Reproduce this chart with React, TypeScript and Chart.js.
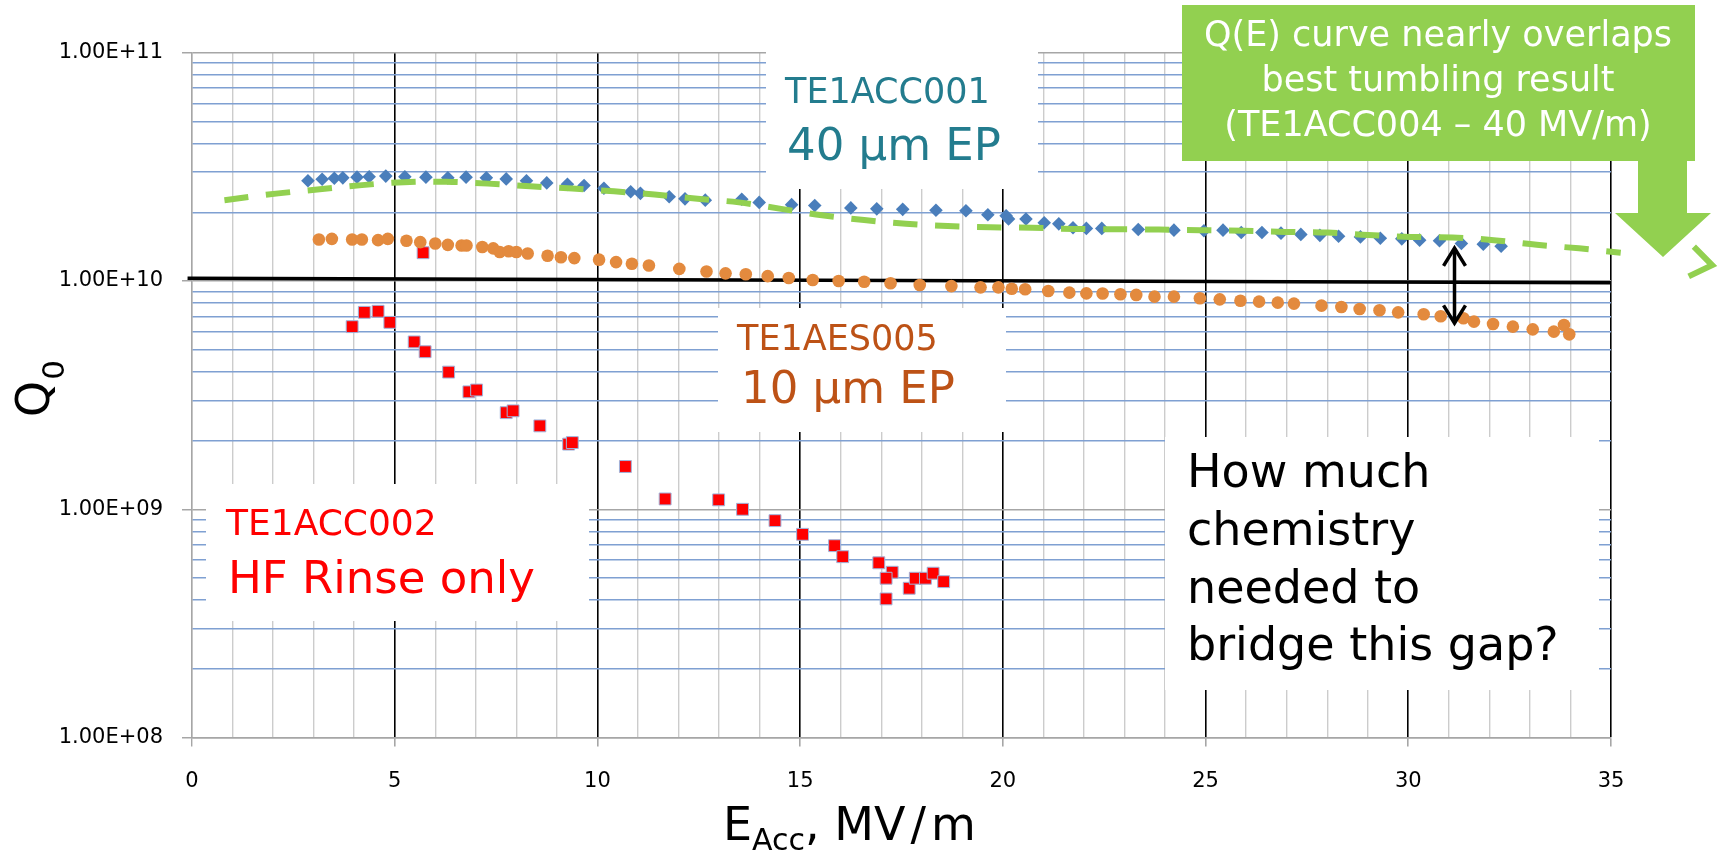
import React, { useEffect, useRef } from 'react';
import { Chart, registerables } from 'chart.js';
Chart.register(...registerables);

// ---- data ----
const blueE = [2.86, 3.21, 3.51, 3.72, 4.07, 4.37, 4.78, 5.25, 5.77, 6.31, 6.76, 7.26, 7.75, 8.25, 8.75, 9.26, 9.67, 10.16, 10.82, 11.06, 11.77, 12.16, 12.66, 13.56, 13.99, 14.79, 15.36, 16.25, 16.89, 17.53, 18.35, 19.09, 19.63, 20.08, 20.14, 20.57, 21.02, 21.38, 21.73, 22.06, 22.44, 23.34, 24.22, 24.96, 25.43, 25.88, 26.39, 26.86, 27.35, 27.82, 28.28, 28.82, 29.31, 29.84, 30.28, 30.77, 31.31, 31.85, 32.29];
const blueQ = [2.75e10, 2.79e10, 2.82e10, 2.83e10, 2.85e10, 2.86e10, 2.88e10, 2.86e10, 2.85e10, 2.83e10, 2.85e10, 2.83e10, 2.80e10, 2.75e10, 2.69e10, 2.65e10, 2.62e10, 2.55e10, 2.46e10, 2.42e10, 2.34e10, 2.29e10, 2.26e10, 2.28e10, 2.21e10, 2.16e10, 2.14e10, 2.09e10, 2.07e10, 2.06e10, 2.04e10, 2.03e10, 1.95e10, 1.93e10, 1.87e10, 1.87e10, 1.80e10, 1.78e10, 1.71e10, 1.70e10, 1.70e10, 1.68e10, 1.67e10, 1.66e10, 1.67e10, 1.63e10, 1.63e10, 1.62e10, 1.60e10, 1.585e10, 1.57e10, 1.56e10, 1.54e10, 1.53e10, 1.51e10, 1.50e10, 1.46e10, 1.45e10, 1.42e10];

const orangeE = [3.13, 3.45, 3.95, 4.19, 4.59, 4.83, 5.29, 5.63, 6.0, 6.31, 6.65, 6.77, 7.16, 7.43, 7.59, 7.81, 8.0, 8.28, 8.77, 9.1, 9.43, 10.04, 10.46, 10.85, 11.27, 12.02, 12.69, 13.16, 13.66, 14.2, 14.72, 15.31, 15.95, 16.58, 17.23, 17.95, 18.73, 19.45, 19.89, 20.22, 20.55, 21.12, 21.64, 22.06, 22.46, 22.9, 23.29, 23.74, 24.22, 24.86, 25.35, 25.86, 26.32, 26.78, 27.18, 27.86, 28.35, 28.8, 29.29, 29.75, 30.38, 30.8, 31.36, 31.62, 32.09, 32.58, 33.07, 33.59, 33.84, 33.97];
const orangeQ = [1.52e10, 1.53e10, 1.52e10, 1.52e10, 1.51e10, 1.53e10, 1.50e10, 1.48e10, 1.46e10, 1.44e10, 1.43e10, 1.43e10, 1.41e10, 1.39e10, 1.34e10, 1.35e10, 1.34e10, 1.32e10, 1.29e10, 1.27e10, 1.26e10, 1.24e10, 1.21e10, 1.19e10, 1.17e10, 1.13e10, 1.10e10, 1.08e10, 1.07e10, 1.05e10, 1.03e10, 1.01e10, 1.00e10, 9.93e9, 9.77e9, 9.60e9, 9.50e9, 9.38e9, 9.38e9, 9.25e9, 9.20e9, 9.04e9, 8.89e9, 8.83e9, 8.81e9, 8.75e9, 8.69e9, 8.54e9, 8.54e9, 8.40e9, 8.31e9, 8.20e9, 8.12e9, 8.04e9, 7.96e9, 7.80e9, 7.69e9, 7.54e9, 7.44e9, 7.29e9, 7.15e9, 7.01e9, 6.87e9, 6.64e9, 6.48e9, 6.31e9, 6.14e9, 6.00e9, 6.42e9, 5.84e9];

const redE = [3.95, 4.25, 4.59, 4.88, 5.48, 5.70, 5.75, 6.33, 6.83, 7.02, 7.75, 7.92, 8.58, 9.29, 9.38, 10.69, 11.67, 12.99, 13.58, 14.38, 15.06, 15.85, 16.05, 16.94, 17.27, 17.12, 17.12, 17.69, 17.84, 18.09, 18.28, 18.54];
const redQ = [6.31e9, 7.29e9, 7.37e9, 6.59e9, 5.41e9, 1.33e10, 4.90e9, 3.99e9, 3.27e9, 3.33e9, 2.65e9, 2.70e9, 2.32e9, 1.93e9, 1.96e9, 1.54e9, 1.11e9, 1.10e9, 1.00e9, 8.92e8, 7.77e8, 6.93e8, 6.20e8, 5.83e8, 5.30e8, 4.99e8, 4.05e8, 4.51e8, 4.99e8, 4.99e8, 5.25e8, 4.82e8];

const greenE = [0.8, 2.13, 3.15, 4.19, 5.23, 6.27, 7.3, 8.34, 9.38, 10.41, 11.41, 12.47, 13.49, 14.53, 15.54, 16.58, 17.61, 18.64, 19.69, 20.72, 21.77, 23.85, 24.86, 25.93, 26.96, 28.01, 29.01, 30.06, 31.09, 32.11, 33.17, 34.21, 35.24, 36.27, 37.3];
const greenQ = [2.26e10, 2.42e10, 2.52e10, 2.63e10, 2.71e10, 2.72e10, 2.67e10, 2.60e10, 2.54e10, 2.47e10, 2.39e10, 2.29e10, 2.21e10, 2.07e10, 1.94e10, 1.85e10, 1.78e10, 1.74e10, 1.72e10, 1.71e10, 1.69e10, 1.68e10, 1.67e10, 1.66e10, 1.64e10, 1.63e10, 1.59e10, 1.56e10, 1.55e10, 1.51e10, 1.44e10, 1.39e10, 1.33e10, 1.28e10, 1.19e10];

const blackE = [-0.11, 35];
const blackQ = [1.028e10, 9.83e9];

const gapE = 31.14;
const gapQ = [1.395e10, 6.53e9];

const xMin = 0, xMax = 35;
const xLabelTicks = [0, 5, 10, 15, 20, 25, 30, 35];
const yDecades = [1e8, 1e9, 1e10, 1e11];
const yDecadeLabels = ['1.00E+08', '1.00E+09', '1.00E+10', '1.00E+11'];
const yMinorMult = [2, 3, 4, 5, 6, 7, 8, 9];

const FONT = '"DejaVu Sans"';

const zip = (xs: number[], ys: number[]) => xs.map((x, i) => ({ x, y: ys[i] }));
const isDecade = (v: number) => Math.abs(Math.log10(v) - Math.round(Math.log10(v))) < 1e-6;

export default function App() {
  const ref = useRef<HTMLCanvasElement>(null);
  useEffect(() => {
    document.body.style.margin = '0';
    const canvas = ref.current!;

    const boxes = [
      { x: 766, y: 30, w: 272, h: 159 },
      { x: 718, y: 308, w: 288, h: 124 },
      { x: 206, y: 484, w: 383, h: 137 },
      { x: 1165, y: 437, w: 434, h: 253 },
    ];
    const texts = [
      { t: 'TE1ACC001', x: 785, y: 103, s: 35, c: '#237c8e' },
      { t: '40 µm EP', x: 787, y: 160, s: 45, c: '#237c8e' },
      { t: 'TE1AES005', x: 737, y: 350, s: 35, c: '#bd5216' },
      { t: '10 µm EP', x: 741, y: 403, s: 45, c: '#bd5216' },
      { t: 'TE1ACC002', x: 226, y: 535, s: 36, c: '#ff0000' },
      { t: 'HF Rinse only', x: 228, y: 593, s: 45, c: '#ff0000' },
      { t: 'How much', x: 1187, y: 487, s: 46, c: '#000000' },
      { t: 'chemistry', x: 1187, y: 545, s: 46, c: '#000000' },
      { t: 'needed to', x: 1187, y: 603, s: 46, c: '#000000' },
      { t: 'bridge this gap?', x: 1187, y: 660, s: 46, c: '#000000' },
    ];

    const chevron = (c: CanvasRenderingContext2D, tx: number, ty: number, ang: number, len: number, spread: number) => {
      c.beginPath();
      c.moveTo(tx - len * Math.cos(ang - spread), ty - len * Math.sin(ang - spread));
      c.lineTo(tx, ty);
      c.lineTo(tx - len * Math.cos(ang + spread), ty - len * Math.sin(ang + spread));
      c.stroke();
    };

    const annot = {
      id: 'annot',
      beforeDatasetsDraw(chart: any) {
        const c = chart.ctx as CanvasRenderingContext2D;
        c.save();
        c.fillStyle = '#ffffff';
        for (const b of boxes) c.fillRect(b.x, b.y, b.w, b.h);
        c.textAlign = 'left';
        c.textBaseline = 'alphabetic';
        for (const t of texts) {
          c.font = `${t.s}px ${FONT}`;
          c.fillStyle = t.c;
          c.fillText(t.t, t.x, t.y);
        }
        c.restore();
      },
      afterDatasetsDraw(chart: any) {
        const c = chart.ctx as CanvasRenderingContext2D;
        const xs = chart.scales.x, ys = chart.scales.y;
        c.save();
        const meta = chart.getDatasetMeta(0);
        const pts = meta.data;
        const last = pts[pts.length - 1], prev = pts[pts.length - 2];
        const ang = Math.atan2(last.y - prev.y, last.x - prev.x);
        const tx = last.x + 8 * Math.cos(ang), ty = last.y + 8 * Math.sin(ang);
        c.strokeStyle = '#92d050';
        c.lineWidth = 6;
        c.lineCap = 'butt';
        c.lineJoin = 'miter';
        chevron(c, tx, ty, ang, 26, 0.62);
        const gx = xs.getPixelForValue(gapE);
        const gy1 = ys.getPixelForValue(gapQ[0]);
        const gy2 = ys.getPixelForValue(gapQ[1]);
        c.strokeStyle = '#000000';
        c.lineWidth = 3.5;
        c.beginPath();
        c.moveTo(gx, gy1 + 2);
        c.lineTo(gx, gy2 - 2);
        c.stroke();
        chevron(c, gx, gy1, -Math.PI / 2, 21, 0.55);
        chevron(c, gx, gy2, Math.PI / 2, 21, 0.55);
        c.restore();
      },
      afterDraw(chart: any) {
        const c = chart.ctx as CanvasRenderingContext2D;
        c.save();
        c.fillStyle = '#92d050';
        c.fillRect(1182, 5, 513, 156);
        c.beginPath();
        c.moveTo(1638, 160);
        c.lineTo(1687, 160);
        c.lineTo(1687, 213);
        c.lineTo(1711, 213);
        c.lineTo(1663, 257);
        c.lineTo(1615, 213);
        c.lineTo(1638, 213);
        c.closePath();
        c.fill();
        c.fillStyle = '#ffffff';
        c.textAlign = 'center';
        c.textBaseline = 'alphabetic';
        c.font = `35px ${FONT}`;
        c.fillText('Q(E) curve nearly overlaps', 1438, 46);
        c.fillText('best tumbling result', 1438, 91);
        c.fillText('(TE1ACC004 – 40 MV/m)', 1438, 136);
        c.fillStyle = '#000000';
        c.textAlign = 'left';
        c.font = `46px ${FONT}`;
        c.fillText('E', 723, 840);
        let x = 723 + c.measureText('E').width;
        c.font = `30px ${FONT}`;
        c.fillText('Acc', x, 850);
        x += c.measureText('Acc').width;
        c.font = `46px ${FONT}`;
        c.fillText(', MV', x, 840);
        x += c.measureText(', MV').width + 5;
        c.fillText('/', x, 840);
        x += c.measureText('/').width + 5;
        c.fillText('m', x, 840);
        c.translate(49, 417);
        c.rotate(-Math.PI / 2);
        c.font = `46px ${FONT}`;
        c.fillText('Q', 0, 0);
        const qw = c.measureText('Q').width;
        c.font = `31px ${FONT}`;
        c.fillText('0', qw + 1, 15);
        c.restore();
      },
    };

    const yTicks: number[] = [];
    for (let d = 0; d < yDecades.length; d++) {
      yTicks.push(yDecades[d]);
      if (d < yDecades.length - 1) for (const m of yMinorMult) yTicks.push(m * yDecades[d]);
    }

    const chart = new Chart(canvas, {
      type: 'scatter',
      data: {
        datasets: [
          {
            type: 'line',
            data: zip(greenE, greenQ),
            borderColor: '#92d050',
            borderWidth: 6,
            borderDash: [24, 18],
            tension: 0.35,
            pointRadius: 0,
            showLine: true,
            fill: false,
            clip: false,
            order: 1,
          } as any,
          {
            data: zip(blueE, blueQ),
            pointStyle: 'rectRot',
            pointRadius: 6.8,
            backgroundColor: '#4a7ebb',
            borderWidth: 0,
            order: 2,
          },
          {
            data: zip(orangeE, orangeQ),
            pointStyle: 'circle',
            pointRadius: 6.3,
            backgroundColor: '#e38a3e',
            borderWidth: 0,
            order: 3,
          },
          {
            data: zip(redE, redQ),
            pointStyle: 'rect',
            pointRadius: 8.4,
            backgroundColor: '#ff0000',
            borderColor: '#9fb4dc',
            borderWidth: 1,
            order: 4,
          },
          {
            type: 'line',
            data: zip(blackE, blackQ),
            borderColor: '#000000',
            borderWidth: 3.5,
            pointRadius: 0,
            showLine: true,
            fill: false,
            clip: false,
            order: 5,
          } as any,
        ],
      },
      options: {
        responsive: false,
        devicePixelRatio: 1,
        animation: false,
        events: [],
        layout: { padding: { left: 0, right: 110, top: 52.7, bottom: 0 } },
        plugins: { legend: { display: false }, tooltip: { enabled: false } },
        scales: {
          x: {
            type: 'linear',
            min: xMin,
            max: xMax,
            afterFit: (s: any) => { s.height = 115.4; },
            ticks: {
              stepSize: 1,
              autoSkip: false,
              maxRotation: 0,
              padding: 22,
              color: '#000000',
              font: { family: 'DejaVu Sans', size: 21 },
              callback: (v: any) => (xLabelTicks.includes(Number(v)) ? String(v) : ''),
            },
            grid: {
              color: (ctx: any) => {
                const v = ctx.tick ? ctx.tick.value : 0;
                if (v === 0) return '#a6a6a6';
                return v % 5 === 0 ? '#000000' : '#cccccc';
              },
              lineWidth: (ctx: any) => {
                const v = ctx.tick ? ctx.tick.value : 0;
                return v % 5 === 0 && v !== 0 ? 1.6 : 1.4;
              },
              tickLength: 9,
              tickColor: (ctx: any) => {
                const v = ctx.tick ? ctx.tick.value : 1;
                return v % 5 === 0 ? '#a6a6a6' : 'rgba(0,0,0,0)';
              },
            },
            border: { display: true, color: '#a6a6a6', width: 1.4 },
          },
          y: {
            type: 'logarithmic',
            min: 1e8,
            max: 1e11,
            afterBuildTicks: (s: any) => { s.ticks = yTicks.map((v) => ({ value: v })); },
            afterFit: (s: any) => { s.width = 192; },
            ticks: {
              autoSkip: false,
              padding: 19,
              color: '#000000',
              font: { family: 'DejaVu Sans', size: 21 },
              callback: (v: any) => {
                const i = yDecades.findIndex((d) => Math.abs(d - Number(v)) / d < 1e-6);
                return i >= 0 ? yDecadeLabels[i] : '';
              },
            },
            grid: {
              color: (ctx: any) => (ctx.tick && isDecade(ctx.tick.value) ? '#a6a6a6' : '#7fa0d2'),
              lineWidth: 1.5,
              tickLength: 10,
              tickColor: (ctx: any) => (ctx.tick && isDecade(ctx.tick.value) ? '#a6a6a6' : 'rgba(0,0,0,0)'),
            },
            border: { display: true, color: '#a6a6a6', width: 1.4 },
          },
        },
      } as any,
      plugins: [annot],
    });
    return () => chart.destroy();
  }, []);
  return (
    <canvas
      ref={ref}
      width={1721}
      height={853}
      style={{ position: 'absolute', left: 0, top: 0, width: 1721, height: 853 }}
    />
  );
}
